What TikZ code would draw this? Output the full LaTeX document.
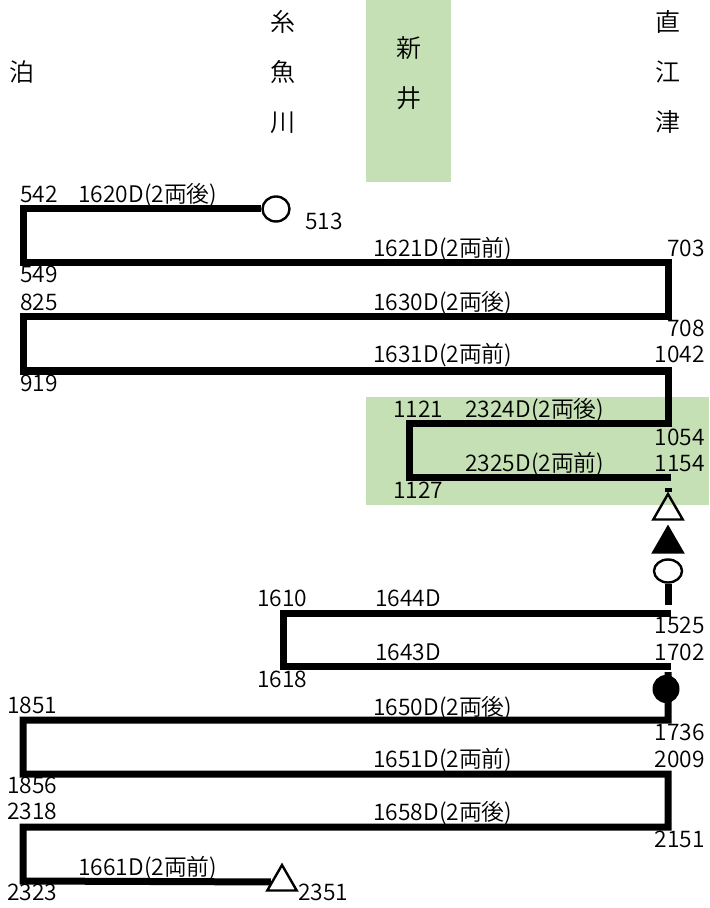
\documentclass[tikz,border=0pt]{standalone}
\usepackage{fontspec}
\setmainfont{Noto Sans CJK JP DemiLight}
\usetikzlibrary{shapes.geometric}
\definecolor{areagreen}{HTML}{C5E0B4}

\begin{document}
\begin{tikzpicture}
  [x=0.5pt,y=-0.5pt,
   every node/.style={inner sep=0pt,font=\fontsize{11.4}{13}\selectfont},
   run/.style={line width=3.5pt,line join=miter},
   sta/.style={align=center,font=\fontsize{12.5}{25}\selectfont},
   ring/.style={ellipse,draw,line width=1.2pt,minimum width=13.5pt,minimum height=12.5pt},
   dot/.style={ellipse,fill,minimum width=13.5pt,minimum height=14pt},
   tri/.style={regular polygon,regular polygon sides=3,draw,line width=1.2pt,minimum size=17pt}]
  \useasboundingbox (0,0) rectangle (709,908);
  \fill[areagreen] (366,0) rectangle (451,182);
  \fill[areagreen] (366,397) rectangle (709,505);

  \node[sta] (tomari) at (22,72) {泊};
  \node[sta] (itoigawa) at (283,72) {糸\\魚\\川};
  \node[sta] (arai) at (409,73) {新\\井};
  \node[sta] (naoetsu) at (668,72) {直\\江\\津};

  \foreach \t/\x/\y in {542/23/209, 549/23/263, 703/668/263, 708/668/317, 825/23/317,
      919/23/371, 1042/668/371, 1054/668/423, 1121/409/423, 1127/409/477, 1154/671/477,
      1525/671/613, 1610/283/613, 1618/283/666, 1702/671/666,
      1736/668/720, 1851/23/720, 1856/23/774, 2009/668/774, 2151/668/827, 2318/23/827, 2323/23/881}
    \coordinate (t\t) at (\x,\y);
  \coordinate (s1) at (668,488);
  \coordinate (s2) at (668,605);
  \coordinate (s3) at (668,672);

  \node[ring] (m513) at (276,209) {};
  \node[tri] (m1) at (668,511) {};
  \node[tri,fill] (m2) at (668,544) {};
  \node[ring,minimum width=14pt,minimum height=11.5pt] (m3) at (668,571) {};
  \node[dot] (m4) at (666,689) {};
  \node[tri] (m2351) at (282,882) {};

  \draw[run] (m513) -- (t542) -- (t549) -- (t703) -- (t708) -- (t825) -- (t919)
    -- (t1042) -- (t1054) -- (t1121) -- (t1127) -- (t1154);
  \draw[run] (s1) -- (m1);
  \draw[run] (m3) -- (s2);
  \draw[run] (t1525) -- (t1610) -- (t1618) -- (t1702);
  \draw[run] (s3) -- (t1736) -- (t1851) -- (t1856) -- (t2009) -- (t2151) -- (t2318)
    -- (t2323) -- (m2351);

  \foreach \t/\x/\y in {542/20/203, 549/20/283, 825/20/311, 919/20/391, 513/305/230,
      1121/393/417, 1127/393/498, 1610/257/606, 1618/257/687,
      1851/7/713, 1856/7/793, 2318/7/819, 2323/7/900, 2351/298/900}
    \node[anchor=base west] (l\t) at (\x,\y) {\t};
  \foreach \t/\y in {703/257, 708/337, 1042/363, 1054/445, 1154/471,
      1525/633, 1702/660, 1736/740, 2009/767, 2151/847}
    \node[anchor=base east] (l\t) at (705,\y) {\t};
  \foreach \n/\x/\y [count=\i] in {1620D(2両後)/78/203, 1621D(2両前)/373/257,
      1630D(2両後)/373/311, 1631D(2両前)/373/363, 2324D(2両後)/465/417,
      2325D(2両前)/465/471, 1644D/375/606, 1643D/375/660, 1650D(2両後)/373/715,
      1651D(2両前)/373/767, 1658D(2両後)/373/820, 1661D(2両前)/78/875}
    \node[anchor=base west] (d\i) at (\x,\y) {\n};
\end{tikzpicture}
\end{document}
